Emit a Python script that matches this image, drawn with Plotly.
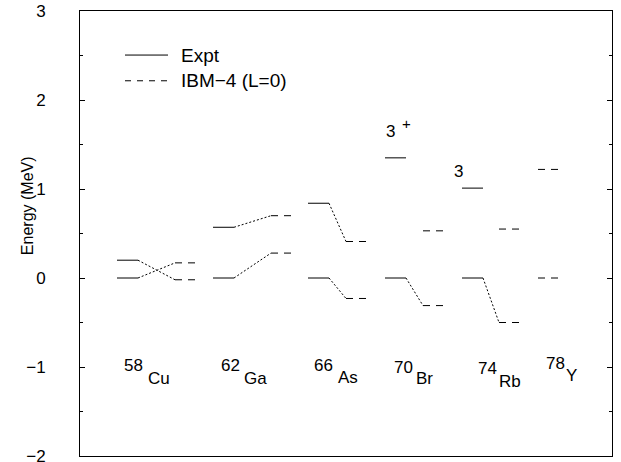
import plotly.graph_objects as go

# ---------------- data ----------------
nuclei = ["Cu", "Ga", "As", "Br", "Rb", "Y"]
mass_numbers = ["58", "62", "66", "70", "74", "78"]
# experimental level energies (MeV)
expt_levels = [[0.00, 0.20], [0.00, 0.57], [0.00, 0.84], [0.00, 1.35], [0.00, 1.01], []]
# IBM-4 (L=0) level energies (MeV)
ibm_levels = [[0.17, -0.02], [0.28, 0.70], [-0.23, 0.41], [-0.31, 0.53], [-0.50, 0.55], [0.00, 1.22]]
# correspondences: (expt index, ibm index) per nucleus
links = [[(0, 0), (1, 1)], [(0, 0), (1, 1)], [(0, 0), (1, 1)], [(0, 0)], [(0, 0)], []]
# spin labels: (nucleus index, level index, text)
spin_labels = [(3, 1, "3"), (4, 1, "3")]
y_tick_values = [-2, -1, 0, 1, 2, 3]
y_tick_labels = ["\u22122", "\u22121", "0", "1", "2", "3"]

# ---------------- layout constants (horizontal column positions) ----------------
EXPT_X0 = [37, 133, 228, 305, 382, None]
IBM_X0 = [95, 191, 266, 343, 419, 458]
EXPT_W = 21
IBM_W = 20

FONT = "Liberation Sans, Arial, Helvetica, sans-serif"
BLACK = "#000000"
fig = go.Figure()


def seg(x0, x1, y0, y1, dash):
    fig.add_trace(go.Scatter(x=[x0, x1], y=[y0, y1], mode="lines",
                             line=dict(color=BLACK, width=1, dash=dash),
                             showlegend=False, hoverinfo="skip"))


for i in range(len(nuclei)):
    for e in expt_levels[i]:
        seg(EXPT_X0[i], EXPT_X0[i] + EXPT_W, e, e, "solid")
    for b in ibm_levels[i]:
        seg(IBM_X0[i], IBM_X0[i] + IBM_W, b, b, "7px,6px")
    for (ei, bi) in links[i]:
        seg(EXPT_X0[i] + EXPT_W, IBM_X0[i], expt_levels[i][ei], ibm_levels[i][bi], "2px,2px")

# legend samples
seg(45, 88, 2.505, 2.505, "solid")
seg(45, 88, 2.216, 2.216, "6px,6px")


def txt(x, y, s, size=17, **kw):
    d = dict(x=x, y=y, text=s, xanchor="left", yanchor="middle", showarrow=False,
             font=dict(size=size, family=FONT, color=BLACK))
    d.update(kw)
    return d


ann = [txt(99, 2.505, "Expt", 19), txt(99, 2.216, "IBM\u22124 (L=0)", 19)]

MASS_POS = [(42, -0.98), (139, -0.98), (232, -0.98), (312, -1.0), (396, -1.02), (464, -0.965)]
SYM_POS = [(66, -1.13), (162, -1.13), (256, -1.12), (334, -1.13), (417, -1.16), (484, -1.09)]
for i in range(len(nuclei)):
    ann.append(txt(MASS_POS[i][0], MASS_POS[i][1], mass_numbers[i]))
    ann.append(txt(SYM_POS[i][0], SYM_POS[i][1], nuclei[i]))

# spin labels placed above levels
SPIN_POS = [(304, 1.65), (372, 1.195)]
for k, (ni, li, s) in enumerate(spin_labels):
    ann.append(txt(SPIN_POS[k][0], SPIN_POS[k][1], s))
ann.append(txt(320, 1.735, "+", 15))

ann.append(dict(x=-0.0996, y=0.5615, xref="paper", yref="paper", text="Energy (MeV)", textangle=-90,
                showarrow=False, xanchor="center", yanchor="middle",
                font=dict(size=16, family=FONT, color=BLACK)))

# plot box at x 80..612, y 11..456 of the 621x462 page
fig.update_layout(
    width=621, height=462,
    margin=dict(l=80, r=9, t=11, b=6, autoexpand=False),
    paper_bgcolor="white", plot_bgcolor="white",
    showlegend=False,
    annotations=ann,
    font=dict(family=FONT, size=17, color=BLACK),
)
fig.update_xaxes(range=[0, 532], showgrid=False, zeroline=False, showticklabels=False, ticks="",
                 showline=True, linecolor=BLACK, linewidth=1, mirror=True, automargin=False)
fig.update_yaxes(range=[-2, 3], showgrid=False, zeroline=False, automargin=False,
                 ticks="inside", ticklen=5, tickcolor=BLACK, tickwidth=1,
                 minor=dict(dtick=0.5, tick0=0, ticks="inside", ticklen=3, tickcolor=BLACK),
                 showline=True, linecolor=BLACK, linewidth=1, mirror="ticks",
                 tickvals=y_tick_values, ticktext=y_tick_labels, ticklabeloverflow="allow",
                 ticklabelstandoff=30, tickfont=dict(size=17, family=FONT, color=BLACK))

# remove the default 8px page margin so the figure sits at the window's top-left corner
fig.write_html("out.html",
               config={"displayModeBar": False, "staticPlot": True},
               post_script="document.body.style.margin='0';document.body.style.overflow='hidden';")
